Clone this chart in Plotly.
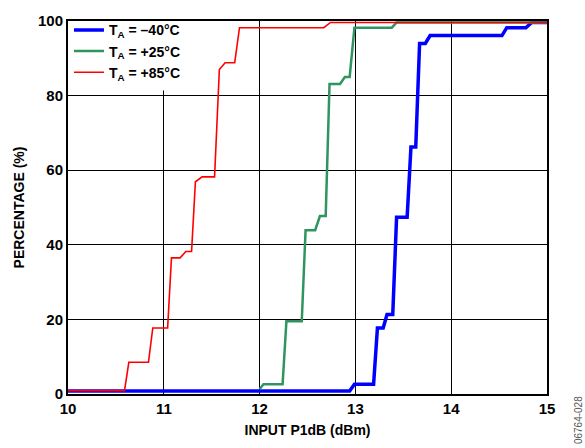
import plotly.graph_objects as go

# step curves (input P1dB in dBm, cumulative percentage)
x_m40 = [10.0, 12.94, 12.99, 13.19, 13.23, 13.29, 13.33, 13.39, 13.43, 13.54, 13.58,
         13.63, 13.67, 13.73, 13.78, 14.53, 14.58, 14.78, 14.84, 15.0]
y_m40 = [0.8, 0.8, 2.6, 2.6, 17.7, 17.7, 21.3, 21.3, 47.4, 47.4, 66.2,
         66.2, 94.0, 94.0, 96.1, 96.1, 98.2, 98.2, 99.6, 99.6]

x_p25 = [12.0, 12.04, 12.24, 12.28, 12.44, 12.48, 12.58, 12.63, 12.69, 12.73,
         12.84, 12.89, 12.94, 12.99, 13.38, 13.43, 15.0]
y_p25 = [1.3, 2.6, 2.6, 19.5, 19.5, 43.9, 43.9, 47.7, 47.7, 83.1,
         83.1, 85.0, 85.0, 98.2, 98.2, 99.6, 99.6]

x_p85 = [10.0, 10.59, 10.635, 10.84, 10.885, 11.04, 11.08, 11.17, 11.23, 11.29, 11.33,
         11.40, 11.53, 11.58, 11.64, 11.74, 11.79, 12.67, 12.74, 15.0]
y_p85 = [0.9, 0.9, 8.5, 8.5, 17.7, 17.7, 36.5, 36.5, 38.2, 38.2, 56.9,
         58.2, 58.2, 87.0, 88.8, 88.8, 98.2, 98.2, 99.6, 99.6]

x_ticks = [10, 11, 12, 13, 14, 15]
y_ticks = [0, 20, 40, 60, 80, 100]

FONT = "Liberation Sans, Arial, sans-serif"

fig = go.Figure()
fig.add_trace(go.Scatter(x=x_m40, y=y_m40, mode="lines", name="T<sub>A</sub> = \u201340\u00b0C",
                         line=dict(color="#0000ff", width=3.5)))
fig.add_trace(go.Scatter(x=x_p25, y=y_p25, mode="lines", name="T<sub>A</sub> = +25\u00b0C",
                         line=dict(color="#2e9460", width=2.5)))
fig.add_trace(go.Scatter(x=x_p85, y=y_p85, mode="lines", name="T<sub>A</sub> = +85\u00b0C",
                         line=dict(color="#ff0000", width=1.6)))

axis_common = dict(
    showgrid=True, gridcolor="black", gridwidth=1.2,
    showline=True, linecolor="black", linewidth=2, mirror=True,
    ticks="", zeroline=False,
    tickfont=dict(family=FONT, size=15, color="black", weight="bold"),
)

fig.update_xaxes(range=[10, 15], tickvals=x_ticks,
                 title=dict(text="INPUT P1dB (dBm)", standoff=9,
                            font=dict(family=FONT, size=14, color="black", weight="bold")),
                 **axis_common)
fig.update_yaxes(range=[0, 100], tickvals=y_ticks,
                 title=dict(text="PERCENTAGE (%)", standoff=10,
                            font=dict(family=FONT, size=14, color="black", weight="bold")),
                 **axis_common)

# white patch hiding the grid behind the legend (above grid, below traces)
fig.add_shape(type="rect", xref="x", yref="y", x0=10, x1=11.4, y0=81.4, y1=100,
              fillcolor="white", line_width=0, layer="between")

fig.add_annotation(text="06764-028", xref="paper", yref="paper", x=1.066, y=-0.071,
                   xanchor="center", yanchor="middle", textangle=-90, showarrow=False,
                   font=dict(family=FONT, size=10, color="#555555"))

fig.update_layout(
    width=585, height=448,
    margin=dict(l=68, r=38, t=13, b=53),
    plot_bgcolor="white", paper_bgcolor="white",
    legend=dict(x=0.002, y=1.018, xanchor="left", yanchor="top",
                bgcolor="rgba(0,0,0,0)", borderwidth=0, tracegroupgap=0,
                font=dict(family=FONT, size=14, color="black", weight="bold")),
)

fig.write_html("out.html", config={"displayModeBar": False},
               post_script="document.body.style.margin='0';")
